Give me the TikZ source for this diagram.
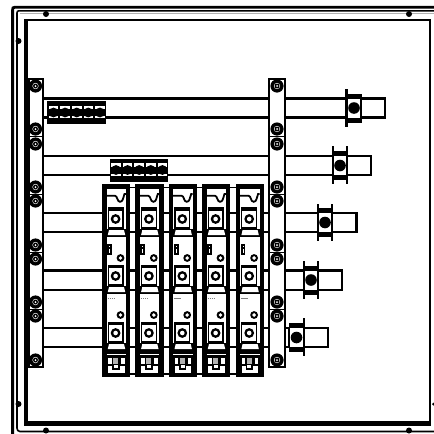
\documentclass[tikz,border=0pt]{standalone}
\tikzset{
  bk/.style={line width=2.2pt,draw=black},
  sup/.style={line width=2.2pt,draw=black,fill=white},
  tick/.style={line width=2.2pt,draw=black},
  sep/.style={line width=1pt,draw=black},
}
\newcommand{\ringbolt}[2]{%
  \fill[black] (#1,#2) circle (6.6);
  \fill[white] (#1,#2) circle (3.1);
  \fill[black] (#1,#2) circle (2.5);
  \fill[white] (#1,#2) circle (1);}
\newcommand{\ringsmall}[3]{%
  \fill[black] (#1,#2) circle (#3);
  \fill[white] (#1,#2) circle (#3*0.5);}
\newcommand{\busbar}[3]{% y1 y2 xend
  \draw[bk] (43,#1) -- (269,#1);
  \draw[bk] (43,#2) -- (269,#2);
  \draw[bk] (285,#1) -- (#3,#1) -- (#3,#2) -- (285,#2);}
\newcommand{\clampbody}[2]{% left x, top y of bar
  \fill[white] (#1,#2) rectangle ++(16,19);
  \fill[black] (#1,#2-5) rectangle ++(16,5);
  \fill[black] (#1,#2+19) rectangle ++(16,5);
  \draw[tick] (#1+.8,#2) -- ++(0,19);
  \draw[tick] (#1+15.2,#2) -- ++(0,19);
  \fill[black] (#1+8,#2+9.5) circle (5.8);}
\newcommand{\termblock}[2]{% left x, top y
  \fill[black] (#1,#2) rectangle ++(58.5,23);
  \foreach \k in {0,...,4}{
    \pgfmathsetmacro{\cx}{#1+6.5+\k*11.6}
    \fill[white] (\cx-4.8,#2+4.8) rectangle ++(9.6,3.4);
    \fill[white] (\cx-4.8,#2+15) rectangle ++(9.6,2.4);
    \fill[black] (\cx,#2+11.5) circle (4.9);
  }}
\newcommand{\termsquare}[2]{% centre x, centre y
  \fill[black] (#1-8,#2-9.5) rectangle (#1+8,#2+9.5);
  \fill[white] (#1-6.8,#2-7.8) rectangle (#1+6.8,#2+7.8);
  \fill[black] (#1,#2) circle (4.9);
  \fill[white] (#1,#2) circle (2.3);}
\newcommand{\sidegaps}[3]{% col left, y1, y2
  \fill[white] (#1+4.7,#2) rectangle (#1+5.6,#3);
  \fill[white] (#1+21.6,#2) rectangle (#1+24,#3);}
\newcommand{\clipshape}[2]{% col left, y
  \fill[black] (#1+4.7,#2-.8) rectangle (#1+24,#2+7);
  \fill[white] (#1+7,#2) -- (#1+22,#2) -- (#1+23.2,#2+5) -- (#1+5.8,#2+5) -- cycle;}
\newcommand{\fusecol}[1]{%
  \fill[black] (#1,184) rectangle ++(28.2,193);
  % top section with wave
  \fill[white] (#1+4.7,189) rectangle (#1+24,207);
  \draw[line width=1.8pt] (#1+4,195.8) -- (#1+13,195.8) .. controls (#1+15.5,195.8) and (#1+15,201.8) .. (#1+18,201.8) .. controls (#1+21,201.8) and (#1+21,198) .. (#1+22.5,194) -- (#1+24,194);
  \sidegaps{#1}{207}{229}
  \termsquare{#1+13.6}{219}
  \clipshape{#1}{230}
  % middle panel
  \fill[white] (#1+4.7,237) rectangle (#1+24,265);
  \fill[black] (#1+5,244) rectangle (#1+9.8,255);
  \fill[white] (#1+6.9,245.5) rectangle (#1+7.9,247);
  \fill[white] (#1+6.9,248.5) rectangle (#1+7.9,253);
  \ringsmall{#1+18.5}{258}{3.9}
  \sidegaps{#1}{265}{286}
  \termsquare{#1+13.6}{276}
  \clipshape{#1}{287}
  % lower panel
  \fill[white] (#1+4.7,294) rectangle (#1+24,322);
  \draw[gray,line width=.5pt,dash pattern=on 1.4pt off .6pt] (#1+5.5,298) -- (#1+12.5,298);
  \ringsmall{#1+18.5}{315}{3.9}
  \sidegaps{#1}{322}{343}
  \termsquare{#1+13.6}{333}
  \clipshape{#1}{344}
  \draw[line width=1pt,white] (#1+4.7,354.8) -- (#1+24,354.8);
  % base
  \fill[white] (#1+6,358) rectangle (#1+9.5,363.5);
  \fill[white] (#1+19,358) rectangle (#1+22.5,363.5);
  \fill[gray!60] (#1+11,357.5) rectangle (#1+16,364);
  \fill[white] (#1+6,366) rectangle (#1+22.5,372.5);
  \fill[black] (#1+10,365) rectangle (#1+17.5,370);
  \fill[white] (#1+11.8,365) rectangle (#1+15.8,367.5);
}
\begin{document}
\begin{tikzpicture}[x=1pt,y=-1pt]
\useasboundingbox (0,0) rectangle (434,434);
\fill[white] (0,0) rectangle (434,434);
% outer frame
\draw[black,line width=2.8pt] (434,7.2) -- (15,7.2) .. controls (13,7.2) and (12.6,8) .. (12.6,10) -- (12.6,434);
\draw[black,line width=1.6pt] (434,10.8) -- (19,10.8) .. controls (17.5,10.8) and (17,11.5) .. (17,13) -- (17,428) .. controls (17,430) and (18,431.5) .. (20,431.5) -- (434,431.5);
\draw[gray!60,line width=1pt] (434,13) -- (20,13);
% inner frame
\draw[black,line width=2.6pt] (25.2,425) -- (25.2,19.8) -- (430,19.8) -- (430,425) -- cycle;
\draw[black,line width=3pt] (24.5,422.5) -- (430,422.5);
\draw[black,line width=2.6pt] (27,20) -- (27,422);
% frame studs
\fill[black] (46,14) circle (3);
\fill[black] (409,14) circle (3);
\fill[black] (18.5,41) circle (3);
\fill[black] (18.5,404) circle (3);
\fill[black] (46,430.5) circle (3);
\fill[black] (409,430.5) circle (3);
\fill[black] (433.5,404) circle (1.5);
% bus bars
\busbar{98.5}{117.5}{385}
\busbar{156}{175}{371}
\busbar{213}{232}{356.5}
\busbar{270.5}{290}{342}
\busbar{328}{347}{328}
% link lines between columns
\draw[line width=1.6pt] (102,187.5) -- (264,187.5);
\draw[line width=1.6pt] (102,374) -- (264,374);
% supports
\draw[sup] (28.5,79) rectangle (43,367);
\draw[sup] (269,79) rectangle (285,367);
\foreach \y in {136.5,194,252,309}{
  \draw[sep] (28.5,\y) -- (43,\y);
  \draw[sep] (269,\y) -- (285,\y);
}
\foreach \y in {86,129,144,187,201,245,259,302,316,360}{
  \ringbolt{35.5}{\y}
  \ringbolt{277}{\y}
}
% clamps
\clampbody{346}{98.5}
\draw[tick] (346.4,89) -- (346.4,126.5);
\clampbody{332}{156}
\draw[tick] (332.8,146) -- (332.8,183.5);
\draw[tick] (347.2,146) -- (347.2,183.5);
\clampbody{317}{213}
\draw[tick] (317.8,204) -- (317.8,241);
\draw[tick] (332.2,204) -- (332.2,241);
\clampbody{303}{270.5}
\draw[tick] (303.8,261) -- (303.8,298.5);
\draw[tick] (318.2,261) -- (318.2,298.5);
\clampbody{288.5}{328}
\draw[tick] (304,318) -- (304,356);
% terminal blocks
\termblock{47}{101}
\termblock{109.5}{158.5}
% fuse columns
\foreach \c in {102,135.3,168.7,202,235.6}{
  \fusecol{\c}
}
\end{tikzpicture}
\end{document}
